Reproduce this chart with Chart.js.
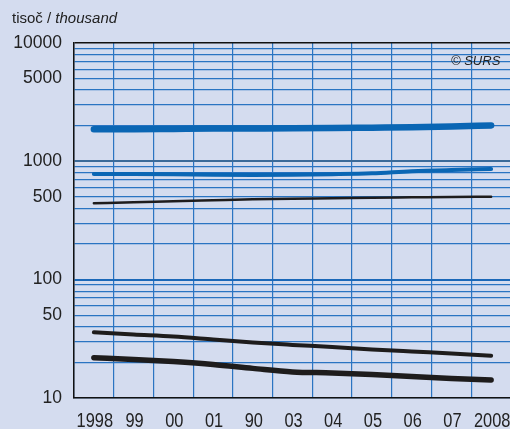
<!DOCTYPE html>
<html>
<head>
<meta charset="utf-8">
<script src="https://cdn.jsdelivr.net/npm/chart.js@4"></script>
<style>
  html, body { margin: 0; padding: 0; background: #d4dcef; overflow: hidden; width: 510px; height: 429px; }
  #wrap { position: relative; width: 512px; height: 429px; }
  canvas { position: absolute; left: 0; top: 0; }
  .title { position: absolute; left: 12px; top: 9px; font: 15px "Liberation Sans", Arial, sans-serif; color: #222; white-space: nowrap; }
  .src { position: absolute; left: 451px; top: 53px; font: italic 13px "Liberation Sans", Arial, sans-serif; color: #222; white-space: nowrap; }
</style>
</head>
<body>
<div id="wrap">
  <canvas id="c" width="512" height="429"></canvas>
  <div class="title">tisoč / <i>thousand</i></div>
  <div class="src">© SURS</div>
</div>
<script>
const categories = ["1998", "99", "00", "01", "90", "03", "04", "05", "06", "07", "2008"];
const seriesA = [1865, 1870, 1880, 1890, 1895, 1900, 1910, 1925, 1940, 1970, 2010];
const seriesB = [781, 781, 778, 770, 767, 770, 778, 792, 825, 845, 860];
const seriesC = [442, 450, 460, 469, 478, 484, 488, 493, 496, 499, 503];
const seriesD = [35.9, 34.4, 33.1, 31.2, 29.4, 28.1, 27.0, 25.7, 24.7, 23.8, 22.8];
const seriesE = [21.9, 21.2, 20.3, 19.2, 17.8, 16.6, 16.3, 15.8, 15.2, 14.6, 14.2];
const yTickLabels = [10, 50, 100, 500, 1000, 5000, 10000];
const yGridValues = [10,20,30,40,50,60,70,80,90,100,200,300,400,500,600,700,800,900,1000,2000,3000,4000,5000,6000,7000,8000,9000,10000];

const BLUE = '#0a66b4';
const BLACK = '#1e1c1c';

function ds(data, color, width) {
  return {
    data: data,
    borderColor: color,
    borderWidth: width,
    pointRadius: 0,
    cubicInterpolationMode: 'monotone',
    borderCapStyle: 'round',
    borderJoinStyle: 'round',
    fill: false
  };
}

// Condensed x-axis labels (narrow Helvetica look), drawn at the category scale's positions
const xLabelPlugin = {
  id: 'xLabels',
  afterDraw(chart) {
    const ctx = chart.ctx;
    const xs = chart.scales.x;
    const labels = chart.data.labels;
    ctx.save();
    ctx.fillStyle = '#222';
    ctx.font = '20.5px "Liberation Sans", Arial, sans-serif';
    ctx.textAlign = 'center';
    ctx.textBaseline = 'alphabetic';
    labels.forEach((lab, i) => {
      const x = xs.getPixelForValue(i);
      ctx.save();
      ctx.translate(x + 1, chart.chartArea.bottom + 29);
      ctx.scale(0.8, 1);
      ctx.fillText(lab, 0, 0);
      ctx.restore();
    });
    ctx.restore();
  }
};

new Chart(document.getElementById('c'), {
  type: 'line',
  data: {
    labels: categories,
    datasets: [
      ds(seriesA, BLUE, 6.5),
      ds(seriesB, BLUE, 4),
      ds(seriesC, BLACK, 2.5),
      ds(seriesD, BLACK, 4),
      ds(seriesE, BLACK, 5.5)
    ]
  },
  plugins: [xLabelPlugin],
  options: {
    responsive: false,
    animation: false,
    devicePixelRatio: 1,
    layout: { padding: { top: 43, right: 1, left: 0, bottom: 0 } },
    plugins: { legend: { display: false }, tooltip: { enabled: false } },
    scales: {
      x: {
        type: 'category',
        offset: true,
        grid: { offset: true, color: '#2a74c2', lineWidth: 1.2, drawTicks: false },
        border: { display: true, color: '#111', width: 1.5 },
        ticks: { display: false },
        afterFit: s => { s.height = 31; }
      },
      y: {
        type: 'logarithmic',
        min: 10,
        max: 10000,
        afterBuildTicks: s => { s.ticks = yGridValues.map(v => ({ value: v })); },
        grid: {
          drawTicks: false,
          color: c => {
            const v = c.tick && c.tick.value;
            if (v === 10000) return '#111';
            if (v === 1000) return '#3a6a99';
            if (v === 100) return '#1a68b8';
            return '#2a74c2';
          },
          lineWidth: c => {
            const v = c.tick && c.tick.value;
            if (v === 10000) return 1.5;
            if (v === 1000 || v === 100) return 2;
            return 1.2;
          }
        },
        border: { display: true, color: '#111', width: 1.5 },
        ticks: {
          color: '#222',
          autoSkip: false,
          padding: 12,
          font: { family: '"Liberation Sans", Arial, sans-serif', size: 17.5 },
          callback: v => yTickLabels.includes(v) ? String(v) : ''
        },
        afterFit: s => { s.width = 74; }
      }
    }
  }
});
</script>
</body>
</html>
